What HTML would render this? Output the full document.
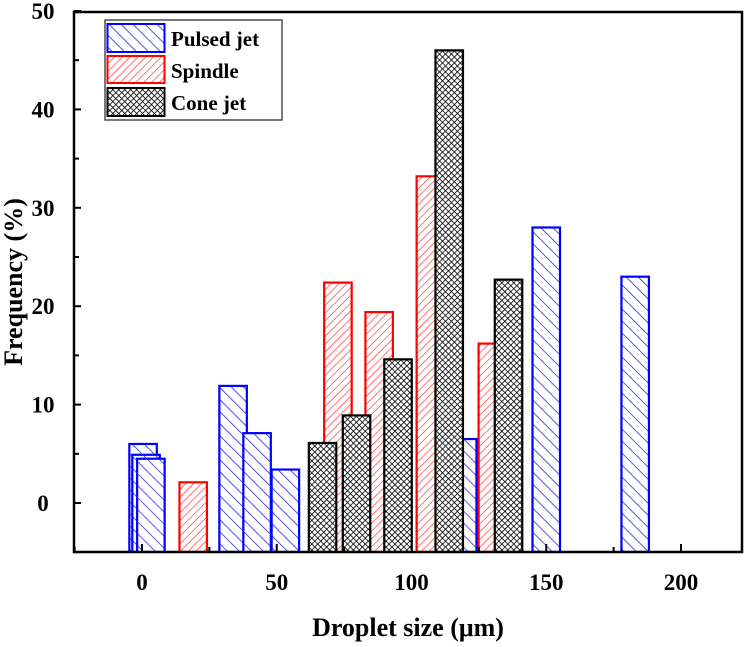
<!DOCTYPE html>
<html><head><meta charset="utf-8"><style>
html,body{margin:0;padding:0;background:#fff;}
svg text{font-family:"Liberation Serif",serif;font-weight:bold;}
</style></head><body>
<svg id="chart" width="750" height="642" viewBox="0 0 750 642" xmlns="http://www.w3.org/2000/svg">
<defs>
<pattern id="pBlue" patternUnits="userSpaceOnUse" width="8.5" height="8.5" patternTransform="rotate(-45)"><rect width="8.5" height="8.5" fill="#fff"/><line x1="0" y1="0" x2="0" y2="8.5" stroke="#2222dd" stroke-width="1.5"/></pattern>
<pattern id="pRed" patternUnits="userSpaceOnUse" width="5.5" height="5.5" patternTransform="rotate(45)"><rect width="5.5" height="5.5" fill="#fff"/><line x1="0" y1="0" x2="0" y2="5.5" stroke="#ff2020" stroke-width="1.2"/></pattern>
<pattern id="pBlack" patternUnits="userSpaceOnUse" width="4.2" height="4.2" patternTransform="rotate(45)"><rect width="4.2" height="4.2" fill="#fff"/><line x1="0" y1="0" x2="0" y2="4.2" stroke="#000" stroke-width="1.6"/><line x1="0" y1="0" x2="4.2" y2="0" stroke="#000" stroke-width="1.6"/></pattern>
</defs>
<g id="bars"></g>
<g id="axes"></g>
<g>
<rect x="105" y="20" width="177" height="100" fill="#fff" stroke="#333" stroke-width="1.3"/>
<rect x="107.5" y="24" width="57" height="28" fill="url(#pBlue)" stroke="#0000ff" stroke-width="2"/>
<text x="171" y="46" font-size="21">Pulsed jet</text>
<rect x="107.5" y="56" width="57" height="27" fill="url(#pRed)" stroke="#ff0000" stroke-width="2"/>
<text x="171" y="78" font-size="21">Spindle</text>
<rect x="107.5" y="88" width="57" height="28" fill="url(#pBlack)" stroke="#000" stroke-width="2"/>
<text x="171" y="110" font-size="21">Cone jet</text>
</g>
<text x="408" y="636" font-size="26" text-anchor="middle">Droplet size (μm)</text>
<text transform="translate(22,282) rotate(-90)" font-size="26" text-anchor="middle">Frequency (%)</text>
</svg>
<script>
const pulsedX=[0.4,1.5,3.3,33.8,42.7,53.2,108.7,119,150,183];
const pulsedY=[6.0,4.9,4.5,11.9,7.1,3.4,4.3,6.5,28.0,23.0];
const spindleX=[19,72.7,88,107,130];
const spindleY=[2.1,22.4,19.4,33.2,16.2];
const coneX=[67,79.6,95,114,136];
const coneY=[6.1,8.9,14.6,46,22.7];
const xTicks=[0,50,100,150,200];
const yTicks=[0,10,20,30,40,50];
const binWidth=10.2;
const X0=74,X1=742,Y0=12,Y1=552;
function xs(v){return 142+2.695*v;}
function ys(v){return 503-9.84*v;}
const NS="http://www.w3.org/2000/svg";
const bars=document.getElementById('bars');
function drawSeries(xv,yv,fill,stroke,name){
  for(let i=0;i<xv.length;i++){
    const r=document.createElementNS(NS,'rect');
    const l=xs(xv[i]-binWidth/2),rr=xs(xv[i]+binWidth/2);
    r.setAttribute('x',l);r.setAttribute('width',rr-l);
    r.setAttribute('y',ys(yv[i]));r.setAttribute('height',ys(0)-ys(yv[i])+49);
    r.setAttribute('fill',fill);r.setAttribute('stroke',stroke);r.setAttribute('stroke-width','2.2');
    
    
    bars.appendChild(r);
  }
}
drawSeries(pulsedX,pulsedY,'url(#pBlue)','#0000ff','pulsed-jet');
drawSeries(spindleX,spindleY,'url(#pRed)','#ff0000','spindle');
drawSeries(coneX,coneY,'url(#pBlack)','#000','cone-jet');
const ax=document.getElementById('axes');
const cov=document.createElementNS(NS,'rect');
cov.setAttribute('x',0);cov.setAttribute('y',Y1);cov.setAttribute('width',750);cov.setAttribute('height',90);cov.setAttribute('fill','#fff');


ax.appendChild(cov);
const fr=document.createElementNS(NS,'rect');
fr.setAttribute('x',X0);fr.setAttribute('y',Y0);fr.setAttribute('width',X1-X0);fr.setAttribute('height',Y1-Y0);
fr.setAttribute('fill','none');fr.setAttribute('stroke','#000');fr.setAttribute('stroke-width','2.5');


ax.appendChild(fr);
function line(x1,y1,x2,y2,name){
  const l=document.createElementNS(NS,'line');
  l.setAttribute('x1',x1);l.setAttribute('y1',y1);l.setAttribute('x2',x2);l.setAttribute('y2',y2);
  l.setAttribute('stroke','#000');l.setAttribute('stroke-width','2');
  
  
  ax.appendChild(l);
}
function text(x,y,s,name){
  const t=document.createElementNS(NS,'text');
  t.setAttribute('x',x);t.setAttribute('y',y);t.setAttribute('font-size','23');t.setAttribute('text-anchor','middle');
  t.textContent=s;
  
  
  ax.appendChild(t);
}
xTicks.forEach((v,i)=>{
  line(xs(v),Y1,xs(v),Y1-8,'x-tick');
  if(i<xTicks.length-1) line(xs(v+25),Y1,xs(v+25),Y1-5,'x-minor-tick');
  text(xs(v),590,String(v),'x-tick-label');
});
line(xs(-25),Y1,xs(-25),Y1-5,'x-minor-tick');
yTicks.forEach((v,i)=>{
  line(X0,ys(v),X0+7,ys(v),'y-tick');
  line(X0,ys(v-5),X0+5,ys(v-5),'y-minor-tick');
  text(43,ys(v)+8,String(v),'y-tick-label');
});
</script>
</body></html>
